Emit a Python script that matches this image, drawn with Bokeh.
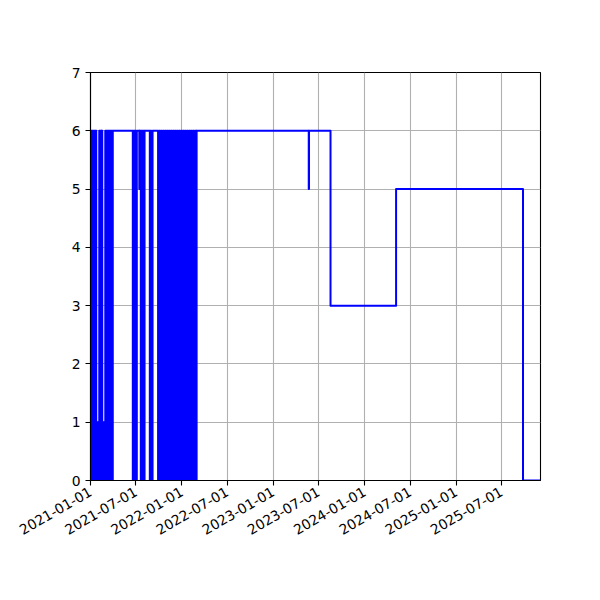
import pandas as pd
from math import pi
from bokeh.plotting import figure
from bokeh.models import Range1d, FixedTicker, DatetimeTickFormatter, ColumnDataSource
from bokeh.embed import file_html
from bokeh.resources import INLINE

# change points of the step series (steps-post)
dates = [
    "2021-01-01", "2021-01-03", "2021-01-06", "2021-01-09", "2021-01-12", "2021-01-15",
    "2021-01-18", "2021-01-21", "2021-01-24", "2021-01-26", "2021-01-28", "2021-01-30",
    "2021-02-01", "2021-02-03", "2021-02-05", "2021-02-08", "2021-02-11", "2021-02-14",
    "2021-02-15", "2021-02-17", "2021-02-19", "2021-02-21", "2021-02-23", "2021-02-25",
    "2021-02-27", "2021-03-01", "2021-03-04", "2021-03-07", "2021-03-10", "2021-03-13",
    "2021-03-16", "2021-03-19", "2021-03-22", "2021-03-25", "2021-03-28", "2021-03-31",
    "2021-06-19", "2021-06-22", "2021-06-25", "2021-06-28", "2021-07-01", "2021-07-05",
    "2021-07-15", "2021-07-16",
    "2021-07-21", "2021-07-24", "2021-07-27", "2021-07-30", "2021-08-02", "2021-08-05",
    "2021-08-26", "2021-08-29", "2021-09-01", "2021-09-06",
    "2021-09-28", "2021-10-02", "2021-10-06", "2021-10-10", "2021-10-14", "2021-10-18",
    "2021-10-22", "2021-10-26", "2021-10-30", "2021-11-03", "2021-11-07", "2021-11-11",
    "2021-11-15", "2021-11-19", "2021-11-23", "2021-11-27", "2021-12-01", "2021-12-05",
    "2021-12-09", "2021-12-13", "2021-12-17", "2021-12-21", "2021-12-25", "2021-12-29",
    "2022-01-02", "2022-01-06", "2022-01-10", "2022-01-14", "2022-01-18", "2022-01-22",
    "2022-01-26", "2022-01-30", "2022-02-03", "2022-02-07", "2022-02-11", "2022-02-15",
    "2022-02-19", "2022-02-23", "2022-02-27", "2022-03-01",
    "2023-05-23", "2023-05-24", "2023-08-18", "2024-05-06", "2025-09-25", "2025-12-04",
]
values = [
    0, 6, 0, 6, 0, 6,
    0, 6, 1, 0, 1, 0,
    1, 0, 6, 0, 6, 0,
    6, 1, 0, 1, 0, 1,
    0, 6, 0, 6, 0, 6,
    0, 6, 0, 6, 0, 6,
    0, 6, 0, 6, 0, 6,
    5, 6,
    0, 6, 0, 6, 0, 6,
    0, 6, 0, 6,
    0, 6, 0, 6, 0, 6,
    0, 6, 0, 6, 0, 6,
    0, 6, 0, 6, 0, 6,
    0, 6, 0, 6, 0, 6,
    0, 6, 0, 6, 0, 6,
    0, 6, 0, 6, 0, 6,
    0, 6, 0, 6,
    5, 6, 3, 5, 0, 0,
]

x_tick_labels = ["2021-01-01", "2021-07-01", "2022-01-01", "2022-07-01", "2023-01-01",
                 "2023-07-01", "2024-01-01", "2024-07-01", "2025-01-01", "2025-07-01"]
y_ticks = [0, 1, 2, 3, 4, 5, 6, 7]

xs = pd.to_datetime(dates)
src = ColumnDataSource(dict(x=xs, y=values))

p = figure(frame_width=450, frame_height=408, x_axis_type="datetime",
           output_backend="svg", toolbar_location=None,
           x_range=Range1d(xs[0], xs[-1]), y_range=Range1d(0, 7),
           min_border_left=90, min_border_right=52, min_border_top=72,
           min_border_bottom=100)

p.step(x="x", y="y", source=src, mode="after", line_color="blue",
       line_width=2, line_join="round")

x_tick_ms = [pd.Timestamp(t).value / 1e6 for t in x_tick_labels]
p.xaxis.ticker = FixedTicker(ticks=x_tick_ms)
p.yaxis.ticker = FixedTicker(ticks=y_ticks)
fmt = "%Y-%m-%d"
p.xaxis.formatter = DatetimeTickFormatter(
    microseconds=fmt, milliseconds=fmt, seconds=fmt, minsec=fmt, minutes=fmt,
    hourmin=fmt, hours=fmt, days=fmt, months=fmt, years=fmt)
p.xaxis.major_label_orientation = pi / 6

for ax in (p.xaxis, p.yaxis):
    ax.axis_line_color = "black"
    ax.axis_line_width = 1.1
    ax.major_tick_line_color = "black"
    ax.major_tick_line_width = 1.1
    ax.major_tick_out = 5
    ax.major_tick_in = 0
    ax.minor_tick_line_color = None
    ax.major_label_text_font = "DejaVu Sans"
    ax.major_label_text_font_size = "13.9px"
    ax.major_label_text_color = "black"
    ax.major_label_standoff = 5

p.xgrid.ticker = FixedTicker(ticks=x_tick_ms)
p.ygrid.ticker = FixedTicker(ticks=y_ticks)
for g in (p.xgrid, p.ygrid):
    g.grid_line_color = "#b0b0b0"
    g.grid_line_width = 1.1

p.outline_line_color = "black"
p.outline_line_width = 1.1
p.background_fill_color = "white"
p.border_fill_color = "white"

open("out.html", "w").write(file_html(p, INLINE))
